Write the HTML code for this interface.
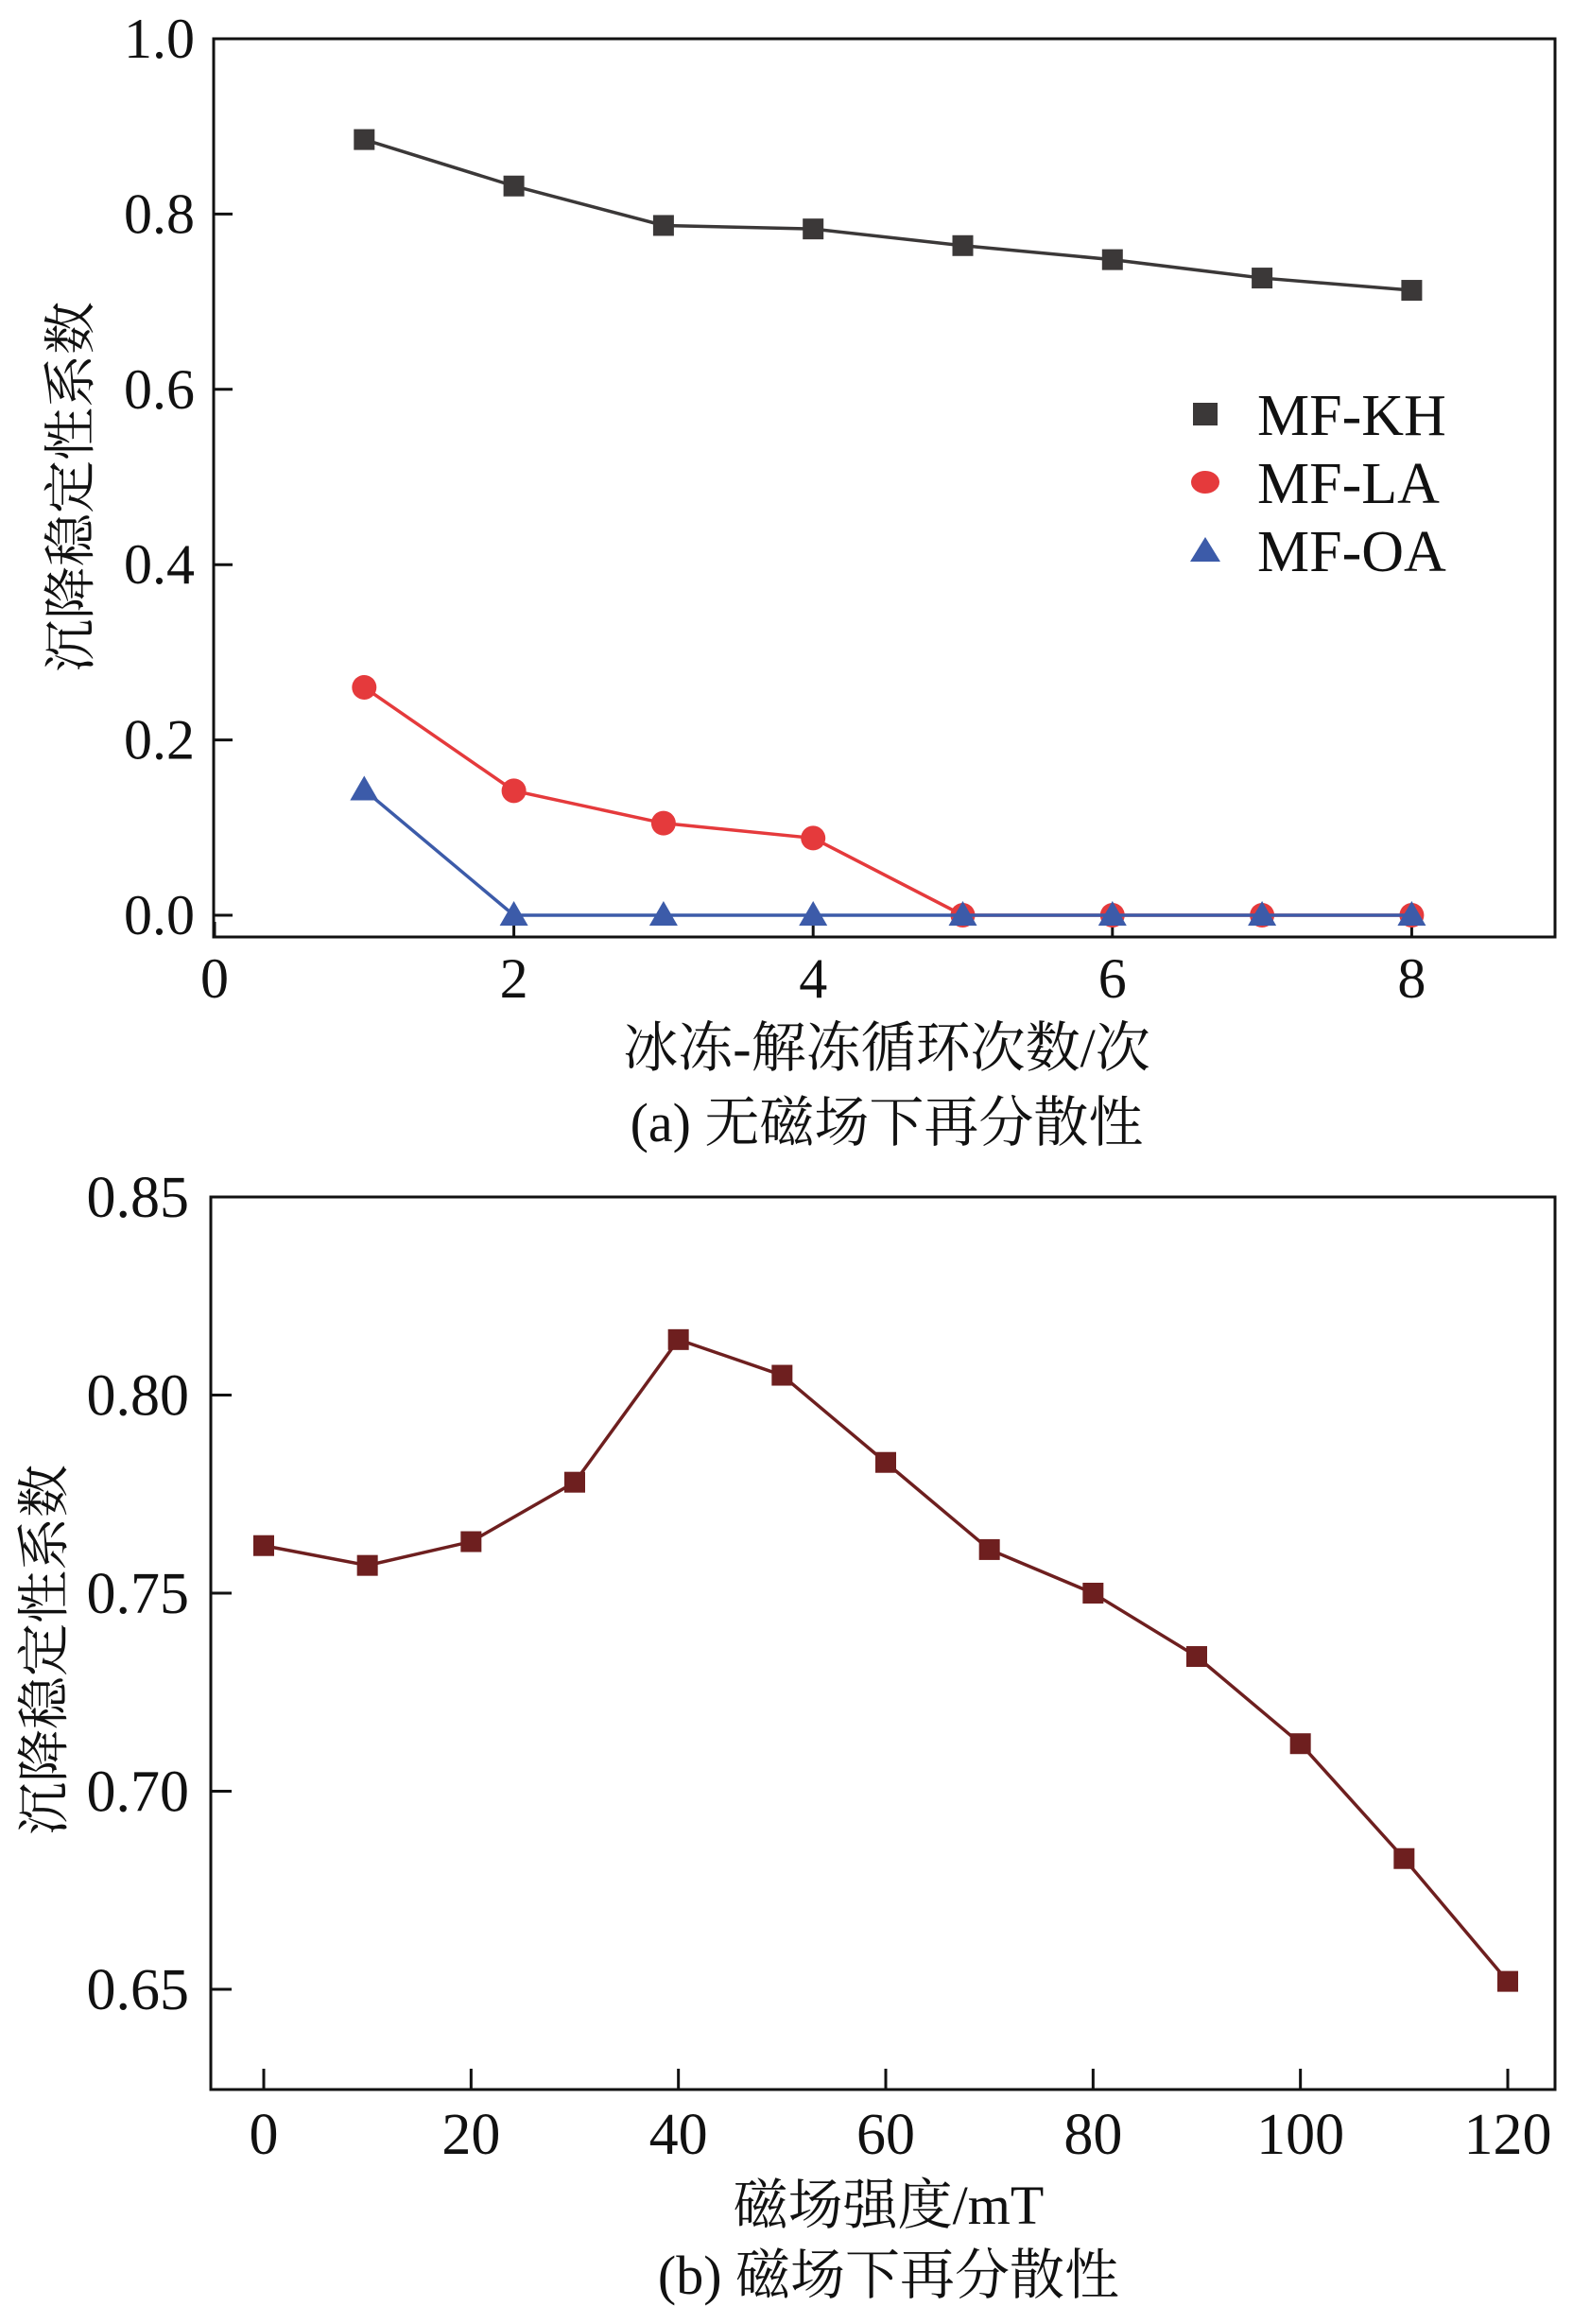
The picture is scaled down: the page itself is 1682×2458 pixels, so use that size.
<!DOCTYPE html>
<html><head><meta charset="utf-8"><style>
html,body{margin:0;padding:0;background:#fff;}
svg{display:block;}
text{font-family:"Liberation Serif","Noto Serif CJK SC",serif;fill:#111;}
</style></head><body>
<svg id="fig" width="1682" height="2458" viewBox="0 0 1682 2458" xmlns="http://www.w3.org/2000/svg">
<g id="a"></g>
<g id="b"></g>
</svg>
<script>
// Chart (a) data
const cyclesA = [1,2,3,4,5,6,7,8];
const kh = [0.885,0.832,0.787,0.783,0.764,0.748,0.727,0.713];
const la = [0.260,0.142,0.105,0.088,0.0,0.0,0.0,0.0];
const oa = [0.143,0.0,0.0,0.0,0.0,0.0,0.0,0.0];
const xTicksA = [0,2,4,6,8];
const yTicksA = [0.0,0.2,0.4,0.6,0.8,1.0];
const yTickLabelsA = ["0.0","0.2","0.4","0.6","0.8","1.0"];
// Chart (b) data
const fieldB = [0,10,20,30,40,50,60,70,80,90,100,110,120];
const coefB = [0.762,0.757,0.763,0.778,0.814,0.805,0.783,0.761,0.750,0.734,0.712,0.683,0.652];
const xTicksB = [0,20,40,60,80,100,120];
const yTicksB = [0.65,0.70,0.75,0.80,0.85];
const yTickLabelsB = ["0.65","0.70","0.75","0.80","0.85"];

const NS="http://www.w3.org/2000/svg";
function mk(parent,tag,attrs,txt){const e=document.createElementNS(NS,tag);for(const k in attrs)e.setAttribute(k,attrs[k]);if(txt!==undefined)e.textContent=txt;parent.appendChild(e);return e;}

// ---------- chart a ----------
const ga=document.getElementById('a');
const xa=v=>227+v*158.3;
const ya=v=>968-v*927;
let e;
e=mk(ga,'rect',{x:226,y:41,width:1419,height:950,fill:'none',stroke:'#111','stroke-width':3});


yTicksA.forEach((v,i)=>{
  e=mk(ga,'line',{x1:226,x2:246,y1:ya(v),y2:ya(v),stroke:'#111','stroke-width':3});
  
  
  e=mk(ga,'text',{x:206,y:ya(v)+20,'text-anchor':'end','font-size':60},yTickLabelsA[i]);
  
  
});
xTicksA.forEach(v=>{
  e=mk(ga,'line',{x1:xa(v),x2:xa(v),y1:991,y2:975,stroke:'#111','stroke-width':3});
  
  
  e=mk(ga,'text',{x:xa(v),y:1055,'text-anchor':'middle','font-size':60},String(v));
  
  
});
function series(g,xs,ys,xf,yf,color,marker,name){
  e=mk(g,'polyline',{points:xs.map((x,i)=>xf(x)+','+yf(ys[i])).join(' '),fill:'none',stroke:color,'stroke-width':3.5});
  
  
  xs.forEach((x,i)=>{
    const cx=xf(x),cy=yf(ys[i]);
    if(marker==='square')e=mk(g,'rect',{x:cx-11,y:cy-11,width:22,height:22,fill:color});
    else if(marker==='circle')e=mk(g,'circle',{cx:cx,cy:cy,r:13,fill:color});
    else e=mk(g,'polygon',{points:`${cx},${cy-15} ${cx-15},${cy+11} ${cx+15},${cy+11}`,fill:color});
    
    
  });
}
series(ga,cyclesA,la,xa,ya,'#e53a3c','circle','mf-la');
series(ga,cyclesA,oa,xa,ya,'#3c5ba9','triangle','mf-oa');
series(ga,cyclesA,kh,xa,ya,'#3b3838','square','mf-kh');
// legend
const legA=[["MF-KH","#3b3838","square"],["MF-LA","#e53a3c","circle"],["MF-OA","#3c5ba9","triangle"]];
legA.forEach((l,i)=>{
  const cy=438+i*72,cx=1275;
  if(l[2]==='square')e=mk(ga,'rect',{x:cx-13,y:cy-12,width:26,height:24,fill:l[1]});
  else if(l[2]==='circle')e=mk(ga,'ellipse',{cx:cx,cy:cy,rx:15,ry:12,fill:l[1]});
  else e=mk(ga,'polygon',{points:`${cx},${cy-14} ${cx-16},${cy+12} ${cx+16},${cy+12}`,fill:l[1]});
  
  
  e=mk(ga,'text',{x:1330,y:cy+22,'font-size':62},l[0]);
  
  
});
e=mk(ga,'text',{x:938,y:1128,'text-anchor':'middle','font-size':58},'冰冻-解冻循环次数/次');


e=mk(ga,'text',{x:938,y:1207,'text-anchor':'middle','font-size':58},'(a) 无磁场下再分散性');


e=mk(ga,'text',{x:0,y:0,'text-anchor':'middle','font-size':56,transform:'translate(94,515) rotate(-90)'},'沉降稳定性系数');



// ---------- chart b ----------
const gb=document.getElementById('b');
const xb=v=>279+v*(1595-279)/120;
const yb=v=>1266+(0.85-v)*(838/0.2);
e=mk(gb,'rect',{x:223,y:1266,width:1422,height:944,fill:'none',stroke:'#111','stroke-width':3});


yTicksB.forEach((v,i)=>{
  e=mk(gb,'line',{x1:223,x2:245,y1:yb(v),y2:yb(v),stroke:'#111','stroke-width':3});
  
  
  e=mk(gb,'text',{x:200,y:yb(v)+21,'text-anchor':'end','font-size':62},yTickLabelsB[i]);
  
  
});
xTicksB.forEach(v=>{
  e=mk(gb,'line',{x1:xb(v),x2:xb(v),y1:2210,y2:2188,stroke:'#111','stroke-width':3});
  
  
  e=mk(gb,'text',{x:xb(v),y:2278,'text-anchor':'middle','font-size':62},String(v));
  
  
});
series(gb,fieldB,coefB,xb,yb,'#6e1f1f','square','coef');
e=mk(gb,'text',{x:940,y:2352,'text-anchor':'middle','font-size':58},'磁场强度/mT');


e=mk(gb,'text',{x:940,y:2426,'text-anchor':'middle','font-size':58},'(b) 磁场下再分散性');


e=mk(gb,'text',{x:0,y:0,'text-anchor':'middle','font-size':56,transform:'translate(66,1745) rotate(-90)'},'沉降稳定性系数');


</script>
</body></html>
